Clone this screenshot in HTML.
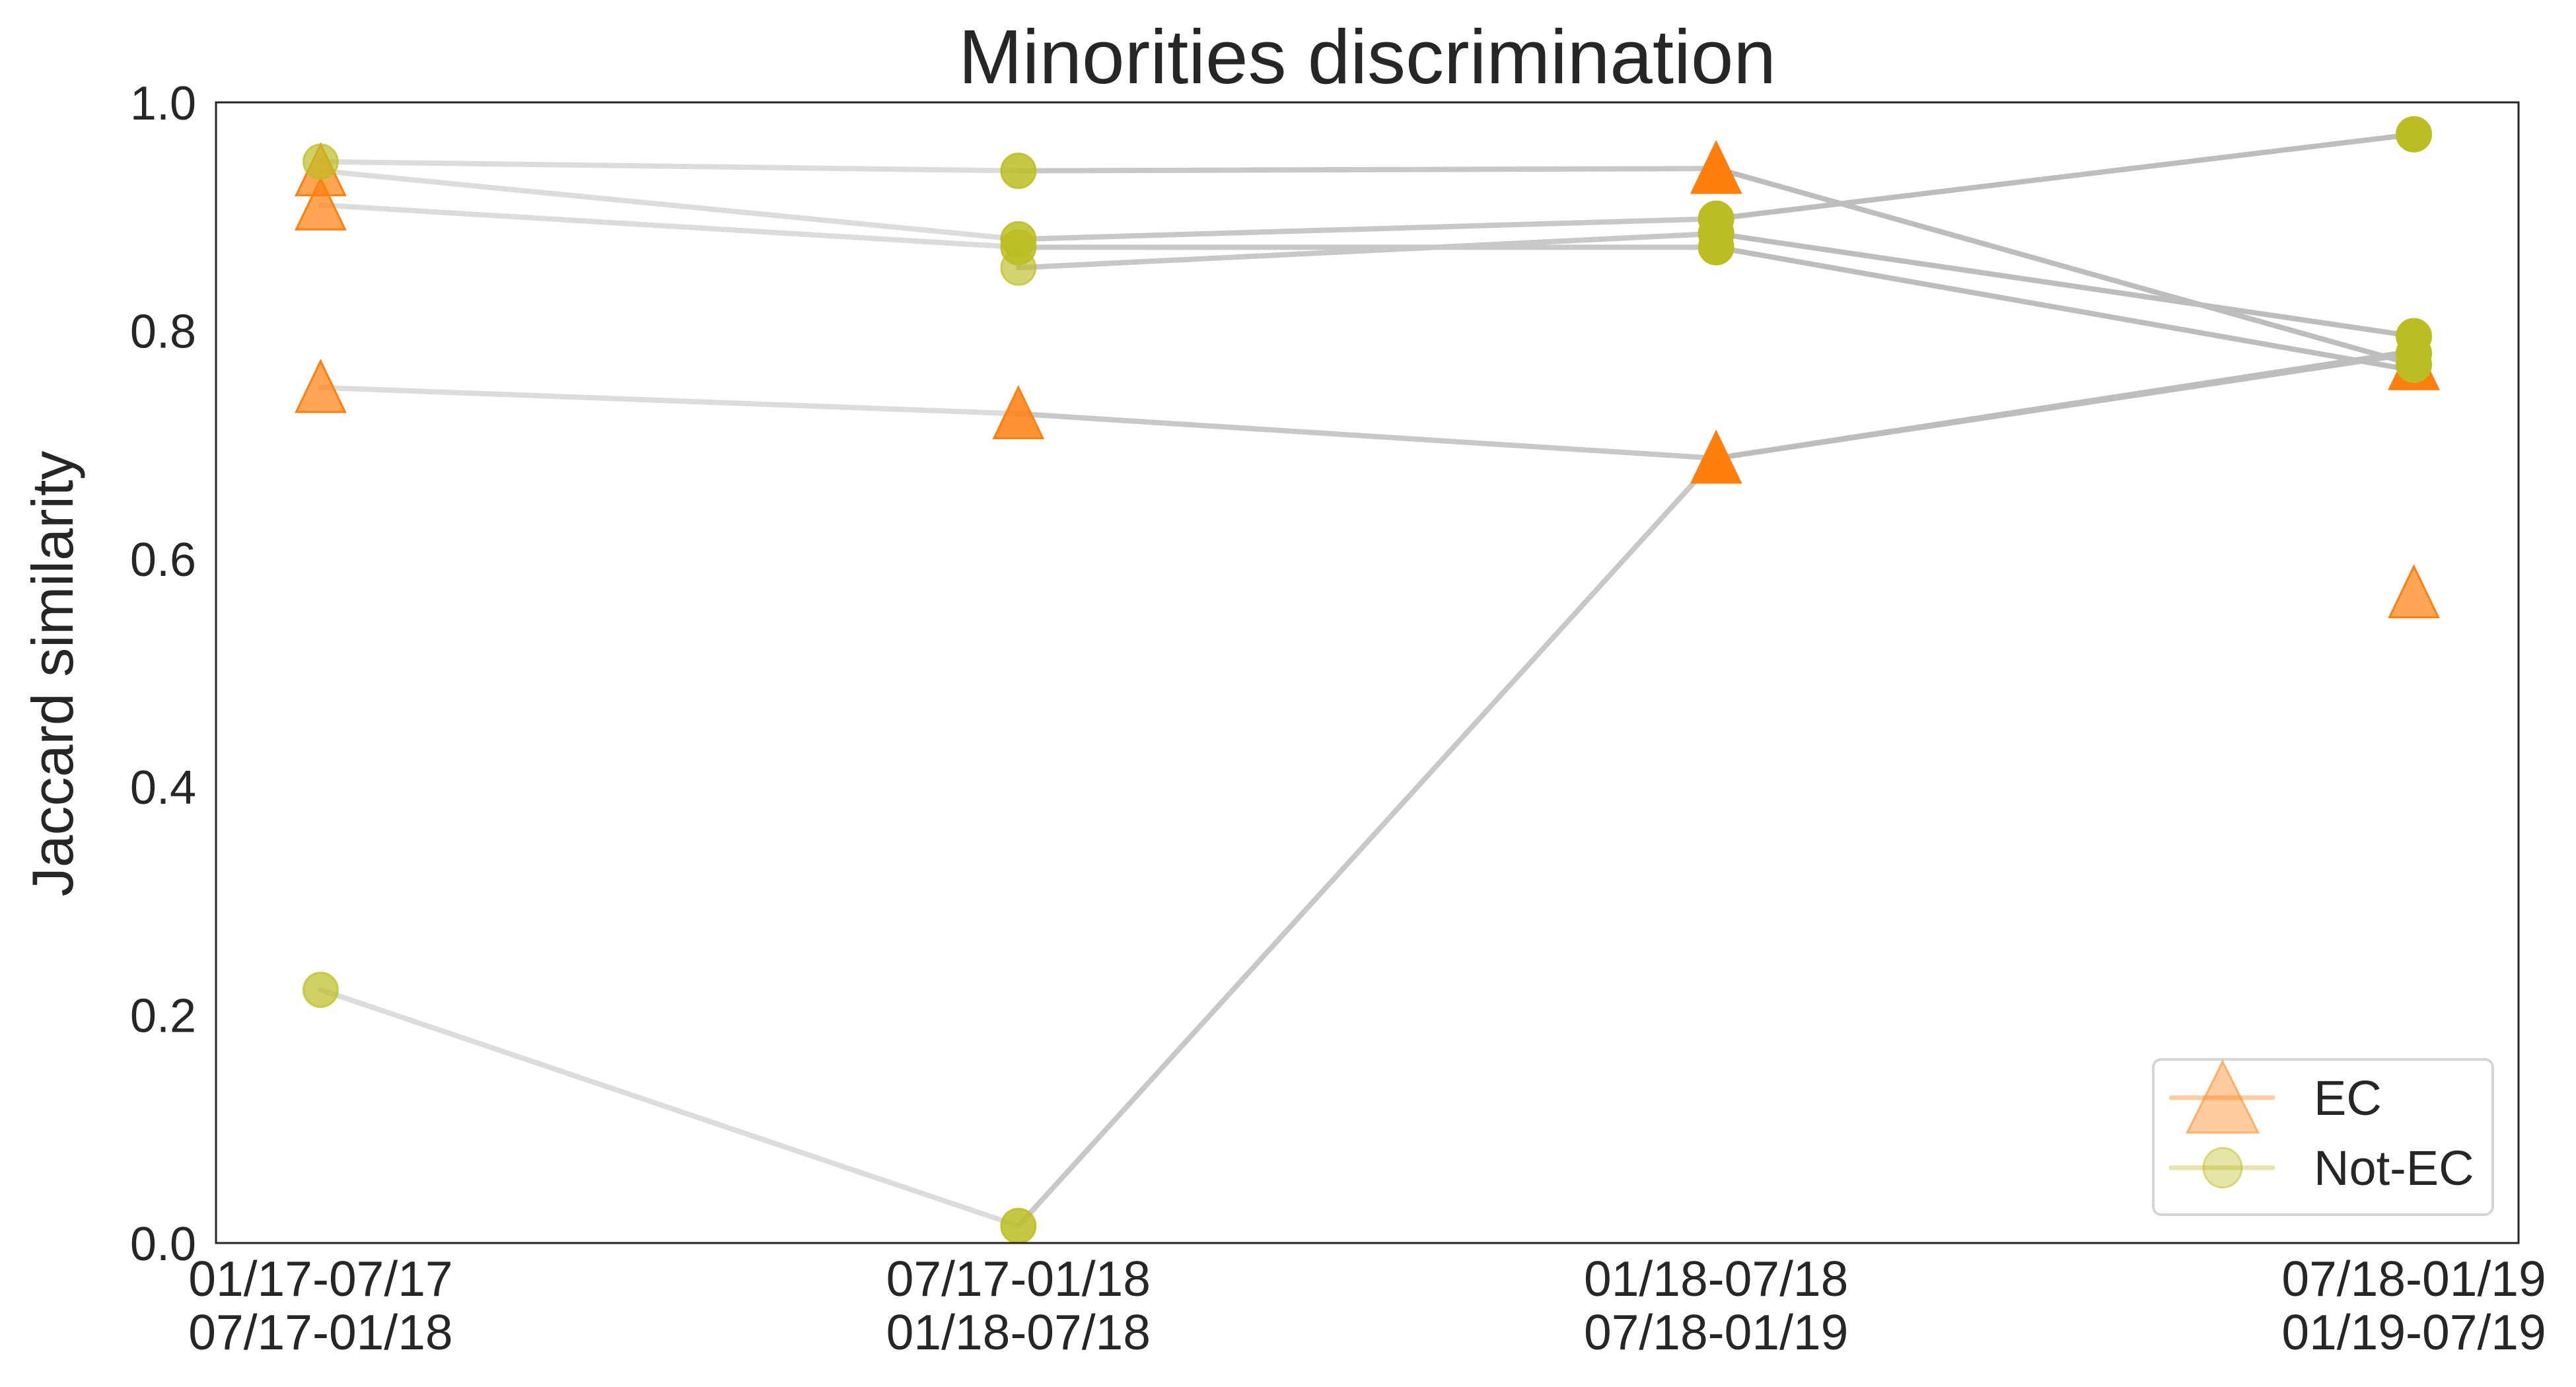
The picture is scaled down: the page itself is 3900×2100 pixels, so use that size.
<!DOCTYPE html>
<html><head><meta charset="utf-8"><style>
html,body{margin:0;padding:0;background:#fff;}
svg{display:block;font-family:"Liberation Sans",sans-serif;}
</style></head><body>
<svg id="chart" width="3900" height="2100" viewBox="0 0 3900 2100" xmlns="http://www.w3.org/2000/svg">
<rect width="3900" height="2100" fill="#fff"/>
<text x="2070" y="126" font-size="116" text-anchor="middle" fill="#262626">Minorities discrimination</text>
<text transform="translate(110,1020) rotate(-90)" font-size="88" text-anchor="middle" fill="#262626">Jaccard similarity</text>
<g id="lines"></g>
<g id="markers"></g>
<rect x="327" y="155" width="3486" height="1727" fill="none" stroke="#262626" stroke-width="3"/>
<g id="yticks"></g>
<g id="xticks"></g>
<g>
<rect x="3260" y="1604" width="514" height="235" rx="12" fill="#fff" stroke="#d5d5d5" stroke-width="4"/>
<line x1="3287" y1="1662" x2="3441" y2="1662" stroke="#ff7f0e" stroke-opacity="0.4" stroke-width="7" stroke-linecap="round"/>
<polygon points="3365,1607 3419,1715 3311,1715" fill="#ff7f0e" fill-opacity="0.4" stroke="#ff7f0e" stroke-opacity="0.5" stroke-width="3"/>
<text x="3503" y="1688" font-size="74" fill="#262626">EC</text>
<line x1="3287" y1="1768" x2="3441" y2="1768" stroke="#bcbd22" stroke-opacity="0.4" stroke-width="7" stroke-linecap="round"/>
<ellipse cx="3365" cy="1768" rx="29" ry="30" fill="#bcbd22" fill-opacity="0.4" stroke="#bcbd22" stroke-opacity="0.5" stroke-width="3"/>
<text x="3503" y="1794" font-size="74" fill="#262626">Not-EC</text>
</g>
</svg>
<script>
const categories = ["01/17-07/17\n07/17-01/18","07/17-01/18\n01/18-07/18","01/18-07/18\n07/18-01/19","07/18-01/19\n01/19-07/19"];
const yTicks = [0.0,0.2,0.4,0.6,0.8,1.0];
const lineA = [0.948,0.940,0.942,0.770];
const lineB = [0.940,0.880,0.898,0.972];
const lineC = [0.910,0.873,0.873,0.765];
const lineD = [null,0.855,0.885,0.795];
const lineE = [0.750,0.727,0.688,0.780];
const lineF = [0.222,0.015,0.688,0.782];
const ecX = [0,0,0,1,2,2,3,3];
const ecY = [0.940,0.910,0.750,0.727,0.942,0.688,0.770,0.570];
const notEcX = [0,0,1,1,1,1,1,2,2,2,3,3,3,3];
const notEcY = [0.948,0.222,0.940,0.880,0.873,0.855,0.015,0.898,0.885,0.873,0.972,0.795,0.780,0.770];

const L=327,R=3813,T=155,B=1882;
function xs(i){return L+(i+0.15)/3.3*(R-L);}
function ys(v){return B-v*(B-T);}
const NS="http://www.w3.org/2000/svg";
function mk(tag,attrs,parent){const e=document.createElementNS(NS,tag);for(const k in attrs)e.setAttribute(k,attrs[k]);parent.appendChild(e);return e;}
const gl=document.getElementById('lines'),gm=document.getElementById('markers'),gy=document.getElementById('yticks'),gx=document.getElementById('xticks');
const segCol=['#dcdcdc','#c8c8c8','#bdbdbd'];
[lineA,lineB,lineC,lineD,lineE,lineF].forEach((s,si)=>{
  for(let i=0;i<s.length-1;i++){
    if(s[i]==null||s[i+1]==null)continue;
    const ln=mk('line',{x1:xs(i),y1:ys(s[i]),x2:xs(i+1),y2:ys(s[i+1]),stroke:segCol[i],'stroke-width':8,'stroke-linecap':'round'},gl);
    
    
  }
});
const alph=[0.7,0.85,1,1];
ecX.forEach((xi,k)=>{
  const cx=xs(xi),cy=ys(ecY[k]);
  let a=alph[xi]; if(xi===3&&ecY[k]<0.6)a=0.7;
  const p=mk('polygon',{points:`${cx},${cy-40} ${cx+37},${cy+37} ${cx-37},${cy+37}`,fill:'#ff7f0e','fill-opacity':a,stroke:'#ff7f0e','stroke-width':3},gm);
  
  
});
notEcX.forEach((xi,k)=>{
  let a=alph[xi]; if(xi===1&&Math.abs(notEcY[k]-0.855)<0.001)a=0.65;
  const c=mk('ellipse',{cx:xs(xi),cy:ys(notEcY[k]),rx:26,ry:26,fill:'#bcbd22','fill-opacity':a,stroke:'#bcbd22','stroke-opacity':a,'stroke-width':3},gm);
  
  
});
yTicks.forEach(v=>{
  const t=mk('text',{x:297,y:ys(v)+26,'font-size':72,'text-anchor':'end',fill:'#262626'},gy);
  t.textContent=v.toFixed(1);
  
  
});
categories.forEach((c,i)=>{
  const parts=c.split('\n');
  parts.forEach((p,j)=>{
    const t=mk('text',{x:xs(i),y:1962+j*81,'font-size':75,'text-anchor':'middle',fill:'#262626'},gx);
    t.textContent=p;
    
    
  });
});
</script>
</body></html>
